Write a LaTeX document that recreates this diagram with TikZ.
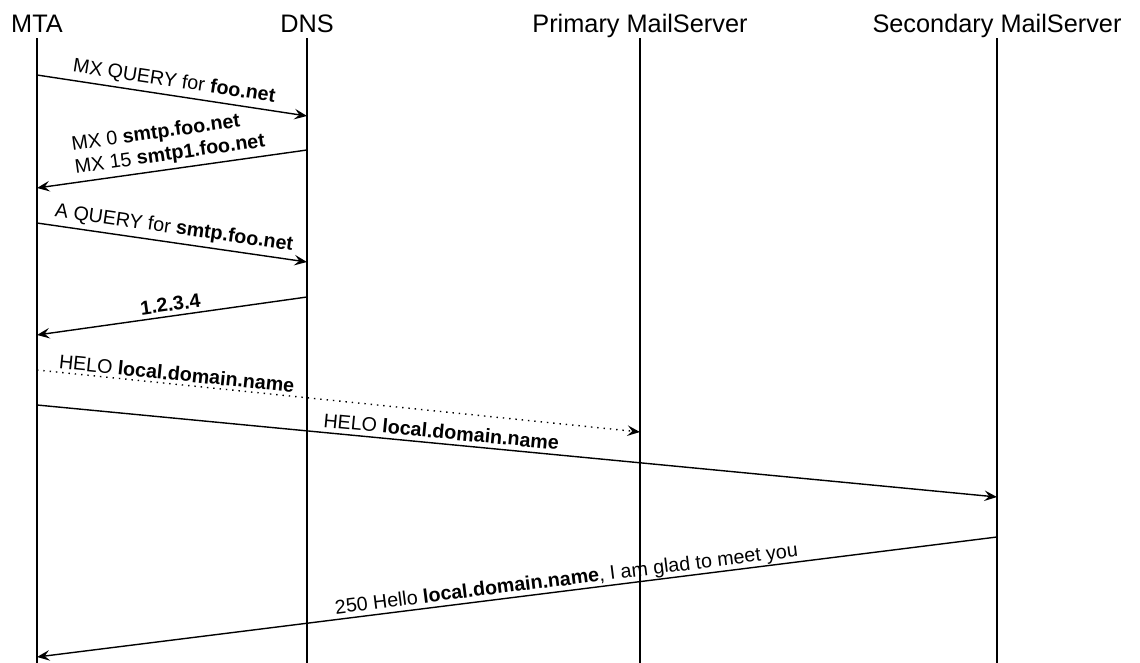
\documentclass[tikz,border=0pt]{standalone}
\usepackage{fontspec}
\setmainfont{Liberation Sans}
\usetikzlibrary{arrows.meta}

\begin{document}
\begin{tikzpicture}[
    x=0.025cm, y=-0.025cm,
    actor/.style={anchor=base, inner sep=1pt, text depth=0.25em,
      font=\fontsize{18pt}{20pt}\selectfont},
    lifeline/.style={line width=1pt, black},
    msg/.style={-{Stealth[length=9pt, width=7.5pt, inset=3.5pt]}, line width=1pt, black},
    dotmsg/.style={msg, dash pattern=on 1pt off 3.5pt},
    lbl/.style={sloped, above, inner sep=3pt, font=\fontsize{14pt}{15pt}\selectfont}
  ]
    \useasboundingbox (0,0) rectangle (1140,663);

    % participants
    \node[actor] (mta) at (37,33)  {MTA};
    \node[actor] (dns) at (307,33) {DNS};
    \node[actor] (pri) at (640,33) {Primary MailServer};
    \node[actor] (sec) at (997,33) {Secondary MailServer};

    \draw[lifeline] (mta.south) -- (mta.south |- 0,663);
    \draw[lifeline] (dns.south) -- (dns.south |- 0,663);
    \draw[lifeline] (pri.south) -- (pri.south |- 0,663);
    \draw[lifeline] (sec.south) -- (sec.south |- 0,663);

    % message end points
    \coordinate (mta1) at (37,75);   \coordinate (dns1) at (307,116);
    \coordinate (dns2) at (307,150); \coordinate (mta2) at (37,188);
    \coordinate (mta3) at (37,223);  \coordinate (dns3) at (307,262);
    \coordinate (dns4) at (307,297); \coordinate (mta4) at (37,335);
    \coordinate (mta5) at (37,370);  \coordinate (pri5) at (640,432);
    \coordinate (mta6) at (37,405);  \coordinate (sec6) at (997,497);
    \coordinate (sec7) at (997,537); \coordinate (mta7) at (37,657);

    % DNS lookups
    \draw[msg] (mta1) -- node[lbl] {MX QUERY for \textbf{foo.net}} (dns1);
    \draw[msg] (dns2) -- node[lbl, align=left, inner sep=3pt,
        font=\fontsize{14pt}{16.5pt}\selectfont]
      {MX 0 \textbf{smtp.foo.net}\\MX 15 \textbf{smtp1.foo.net}} (mta2);
    \draw[msg] (mta3) -- node[lbl] {A QUERY for \textbf{smtp.foo.net}} (dns3);
    \draw[msg] (dns4) -- node[lbl] {\textbf{1.2.3.4}} (mta4);

    % SMTP session
    \draw[dotmsg] (mta5) -- node[lbl, pos=0.23, inner sep=2pt]
      {HELO \textbf{local.domain.name}} (pri5);
    \draw[msg] (mta6) -- node[lbl, pos=0.42]
      {HELO \textbf{local.domain.name}} (sec6);
    \draw[msg] (sec7) -- node[lbl, pos=0.447, inner sep=0.5pt]
      {250 Hello \textbf{local.domain.name}, I am glad to meet you} (mta7);
  \end{tikzpicture}
\end{document}
